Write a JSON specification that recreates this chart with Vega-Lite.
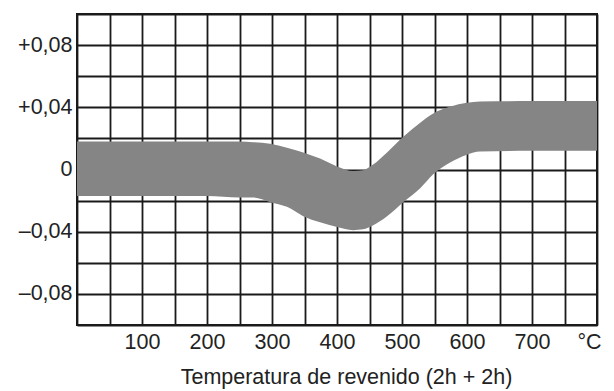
{
  "$schema": "https://vega.github.io/schema/vega-lite/v6.json",
  "width": 520,
  "height": 311,
  "autosize": {"type": "none"},
  "padding": {"left": 77, "top": 14, "right": 17, "bottom": 66},
  "background": "white",
  "config": {
    "view": {"stroke": "#1a1a1a", "strokeWidth": 2},
    "axis": {
      "labelFont": "Liberation Sans",
      "titleFont": "Liberation Sans",
      "labelFontSize": 21.5,
      "titleFontSize": 21.5,
      "labelColor": "#222222",
      "titleColor": "#222222",
      "titleFontWeight": "normal",
      "gridColor": "#1a1a1a",
      "gridWidth": 1.8,
      "gridOpacity": 1,
      "domain": false,
      "ticks": false,
      "tickSize": 0
    }
  },
  "data": {
    "values": [
      {"t": 0, "lo": -0.017, "hi": 0.018},
      {"t": 100, "lo": -0.017, "hi": 0.018},
      {"t": 200, "lo": -0.017, "hi": 0.018},
      {"t": 250, "lo": -0.018, "hi": 0.018},
      {"t": 271, "lo": -0.018, "hi": 0.0175},
      {"t": 297, "lo": -0.021, "hi": 0.0165},
      {"t": 323, "lo": -0.024, "hi": 0.014},
      {"t": 348, "lo": -0.030, "hi": 0.011},
      {"t": 374, "lo": -0.034, "hi": 0.007},
      {"t": 400, "lo": -0.037, "hi": 0.002},
      {"t": 425, "lo": -0.039, "hi": -0.001},
      {"t": 440, "lo": -0.0385, "hi": -0.0005},
      {"t": 455, "lo": -0.036, "hi": 0.003},
      {"t": 477, "lo": -0.030, "hi": 0.011},
      {"t": 502, "lo": -0.021, "hi": 0.021},
      {"t": 528, "lo": -0.012, "hi": 0.030},
      {"t": 548, "lo": -0.003, "hi": 0.036},
      {"t": 574, "lo": 0.0045, "hi": 0.0405},
      {"t": 600, "lo": 0.0095, "hi": 0.043},
      {"t": 620, "lo": 0.0115, "hi": 0.0438},
      {"t": 700, "lo": 0.012, "hi": 0.044},
      {"t": 800, "lo": 0.012, "hi": 0.044}
    ]
  },
  "mark": {"type": "area", "interpolate": "monotone", "color": "#858585", "clip": true},
  "encoding": {
    "x": {
      "field": "t",
      "type": "quantitative",
      "scale": {"domain": [0, 800], "nice": false, "zero": false},
      "axis": {
        "values": [0, 50, 100, 150, 200, 250, 300, 350, 400, 450, 500, 550, 600, 650, 700, 750, 800],
        "labelExpr": "datum.value == 800 ? '°C' : (datum.value > 0 && datum.value % 100 == 0 ? datum.label : '')",
        "labelFlush": true,
        "labelFlushOffset": 4,
        "labelOverlap": false,
        "labelPadding": 6,
        "title": "Temperatura de revenido (2h + 2h)",
        "titleX": 269,
        "titleY": 58,
        "titleAlign": "center",
        "titleAnchor": null,
        "titleBaseline": "alphabetic",
        "format": "d"
      }
    },
    "y": {
      "field": "hi",
      "type": "quantitative",
      "scale": {"domain": [-0.1, 0.1], "nice": false, "zero": false},
      "axis": {
        "values": [-0.1, -0.08, -0.06, -0.04, -0.02, 0, 0.02, 0.04, 0.06, 0.08, 0.1],
        "labelExpr": "round(datum.value*100) == 8 ? '+0,08' : round(datum.value*100) == 4 ? '+0,04' : round(datum.value*100) == 0 ? '0' : round(datum.value*100) == -4 ? '–0,04' : round(datum.value*100) == -8 ? '–0,08' : ''",
        "labelOverlap": false,
        "labelPadding": 5,
        "labelFlush": false,
        "title": null
      }
    },
    "y2": {"field": "lo"}
  }
}
